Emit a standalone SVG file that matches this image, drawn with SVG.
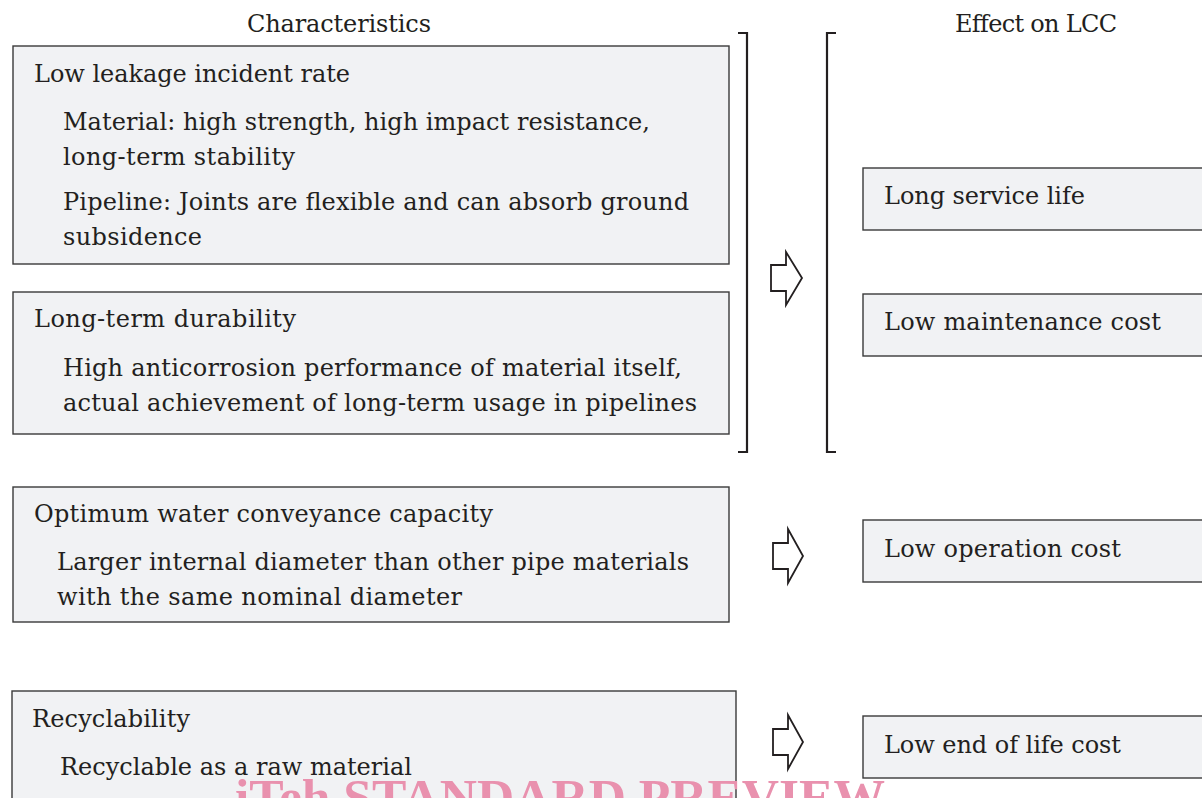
<svg xmlns="http://www.w3.org/2000/svg" width="1202" height="798" viewBox="0 0 1202 798">
<style>
.box{fill:#f1f2f4;stroke:#3a3a3a;stroke-width:1.4}
.t{font-family:"DejaVu Serif","Liberation Serif",serif;font-size:24px;fill:#231f20}
.br{fill:none;stroke:#231f20;stroke-width:2.2}
.ar{fill:#fff;stroke:#231f20;stroke-width:1.8;stroke-linejoin:miter}
.wm{font-family:"Liberation Serif",serif;font-weight:bold;font-size:51px;fill:#e991ae}
</style>
<rect width="1202" height="798" fill="#fff"/>
<g id="headers">
<text class="t" x="247" y="32" textLength="184" lengthAdjust="spacing">Characteristics</text>
<text class="t" x="955" y="32" textLength="162" lengthAdjust="spacing">Effect on LCC</text>
</g>
<g id="node-leakage">
<rect class="box" x="13" y="46" width="716" height="218"/>
<text class="t" x="34" y="82" textLength="316" lengthAdjust="spacing">Low leakage incident rate</text>
<text class="t" x="63" y="130" textLength="587" lengthAdjust="spacing">Material: high strength, high impact resistance,</text>
<text class="t" x="63" y="165" textLength="232" lengthAdjust="spacing">long-term stability</text>
<text class="t" x="63" y="210" textLength="626" lengthAdjust="spacing">Pipeline: Joints are flexible and can absorb ground</text>
<text class="t" x="63" y="245" textLength="139" lengthAdjust="spacing">subsidence</text>
</g>
<g id="node-durability">
<rect class="box" x="13" y="292" width="716" height="142"/>
<text class="t" x="34" y="327" textLength="262" lengthAdjust="spacing">Long-term durability</text>
<text class="t" x="63" y="376" textLength="619" lengthAdjust="spacing">High anticorrosion performance of material itself,</text>
<text class="t" x="63" y="411" textLength="634" lengthAdjust="spacing">actual achievement of long-term usage in pipelines</text>
</g>
<g id="node-conveyance">
<rect class="box" x="13" y="487" width="716" height="135"/>
<text class="t" x="34" y="522" textLength="459" lengthAdjust="spacing">Optimum water conveyance capacity</text>
<text class="t" x="57" y="570" textLength="632" lengthAdjust="spacing">Larger internal diameter than other pipe materials</text>
<text class="t" x="57" y="605" textLength="405" lengthAdjust="spacing">with the same nominal diameter</text>
</g>
<g id="node-recyclability">
<rect class="box" x="12" y="691" width="724" height="130"/>
<text class="t" x="32" y="727" textLength="158" lengthAdjust="spacing">Recyclability</text>
<text class="t" x="60" y="775" textLength="352" lengthAdjust="spacing">Recyclable as a raw material</text>
</g>
<g id="node-service-life">
<rect class="box" x="863" y="168" width="360" height="62"/>
<text class="t" x="884" y="204" textLength="201" lengthAdjust="spacing">Long service life</text>
</g>
<g id="node-maintenance">
<rect class="box" x="863" y="294" width="360" height="62"/>
<text class="t" x="884" y="330" textLength="277" lengthAdjust="spacing">Low maintenance cost</text>
</g>
<g id="node-operation">
<rect class="box" x="863" y="520" width="360" height="62"/>
<text class="t" x="884" y="557" textLength="237" lengthAdjust="spacing">Low operation cost</text>
</g>
<g id="node-end-of-life">
<rect class="box" x="863" y="716" width="360" height="62"/>
<text class="t" x="884" y="753" textLength="237" lengthAdjust="spacing">Low end of life cost</text>
</g>
<g id="connectors">
<path class="br" d="M738 33 H747 V452 H738"/>
<path class="br" d="M836 33 H827 V452 H836"/>
<path class="ar" d="M771 265 H786 V252 L802 278 L786 305 V291 H771 Z"/>
<path class="ar" d="M773 543 H788 V529 L803 556 L788 583 V569 H773 Z"/>
<path class="ar" d="M773 729 H788 V715 L803 742 L788 769 V755 H773 Z"/>
</g>
<text class="wm" x="235" y="814" textLength="650" lengthAdjust="spacingAndGlyphs">iTeh STANDARD PREVIEW</text>
</svg>
